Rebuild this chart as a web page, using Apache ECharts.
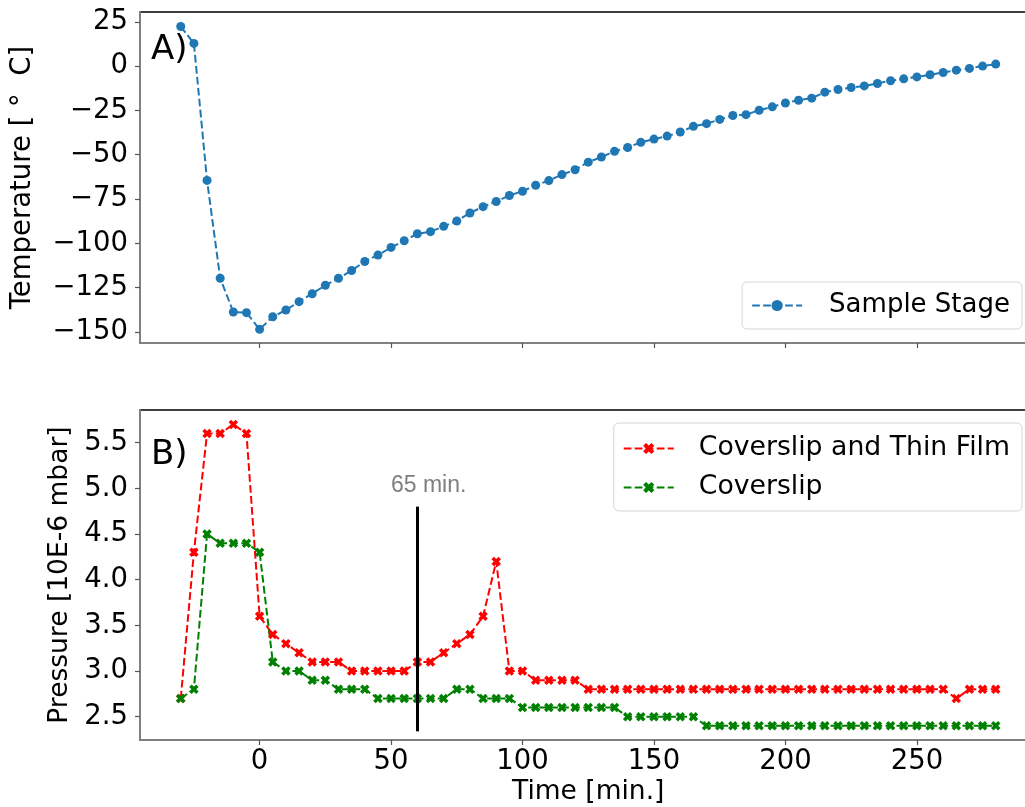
<!DOCTYPE html>
<html>
<head>
<meta charset="utf-8">
<script src="https://cdn.jsdelivr.net/npm/echarts@6/dist/echarts.min.js"></script>
<style>
html,body{margin:0;padding:0;background:#fff;}
#chart{width:1025px;height:807px;}
</style>
</head>
<body>
<div id="chart"></div>
<script>
// ---- data ----
var timeMin = [-30,-25,-20,-15,-10,-5,0,5,10,15,20,25,30,35,40,45,50,55,60,65,70,75,80,85,90,95,100,105,110,115,120,125,130,135,140,145,150,155,160,165,170,175,180,185,190,195,200,205,210,215,220,225,230,235,240,245,250,255,260,265,270,275,280];
var sampleStage = [22.3,12.8,-64.5,-119.7,-138.7,-139.1,-148.5,-141.4,-137.6,-132.9,-128.4,-123.6,-119.7,-115.3,-110.2,-106.6,-102.3,-98.5,-94.6,-93.4,-90.4,-87.4,-82.9,-79.3,-76.4,-73.0,-70.6,-67.2,-64.6,-61.2,-58.5,-54.2,-51.3,-48.1,-45.9,-43.0,-41.2,-39.5,-37.2,-34.0,-32.5,-30.1,-27.9,-27.4,-24.9,-23.0,-20.8,-19.3,-18.1,-14.7,-13.2,-12.1,-11.2,-9.8,-8.3,-7.2,-6.1,-4.9,-3.6,-2.3,-1.3,0.0,1.1];
var coverslipThinFilm = [2.7,4.3,5.6,5.6,5.7,5.6,3.6,3.4,3.3,3.2,3.1,3.1,3.1,3.0,3.0,3.0,3.0,3.0,3.1,3.1,3.2,3.3,3.4,3.6,4.2,3.0,3.0,2.9,2.9,2.9,2.9,2.8,2.8,2.8,2.8,2.8,2.8,2.8,2.8,2.8,2.8,2.8,2.8,2.8,2.8,2.8,2.8,2.8,2.8,2.8,2.8,2.8,2.8,2.8,2.8,2.8,2.8,2.8,2.8,2.7,2.8,2.8,2.8];
var coverslip = [2.7,2.8,4.5,4.4,4.4,4.4,4.3,3.1,3.0,3.0,2.9,2.9,2.8,2.8,2.8,2.7,2.7,2.7,2.7,2.7,2.7,2.8,2.8,2.7,2.7,2.7,2.6,2.6,2.6,2.6,2.6,2.6,2.6,2.6,2.5,2.5,2.5,2.5,2.5,2.5,2.4,2.4,2.4,2.4,2.4,2.4,2.4,2.4,2.4,2.4,2.4,2.4,2.4,2.4,2.4,2.4,2.4,2.4,2.4,2.4,2.4,2.4,2.4];
var xTicks = [0,50,100,150,200,250];
var tempTicks = [-150,-125,-100,-75,-50,-25,0,25];
var pressTicks = [2.5,3.0,3.5,4.0,4.5,5.0,5.5];
var markTime = 60;
var markFrom = 2.34, markTo = 4.8;
var markText = '65 min.';
var markTextPos = [64.3, 5.03];

function pairs(ys){ return timeMin.map(function(t,i){ return [t, ys[i]]; }); }
function fmtMinus(v){ return v < 0 ? '\u2212' + Math.abs(v) : String(v); }

var FONT = 'DejaVu Sans';
var GRAY = '#808080';
var TICK_FS = 27.5, NAME_FS = 26.5;
var xSym = 'path://M0,2.6L2.6,0L5,2.4L7.4,0L10,2.6L7.6,5L10,7.4L7.4,10L5,7.6L2.6,10L0,7.4L2.4,5Z';

function xAxisCfg(idx, showLabels, name){
  return {
    type:'value', gridIndex: idx, min:-45.5, max:295.5,
    name: name || '', nameLocation:'middle', nameGap:39,
    nameTextStyle:{fontFamily:FONT,fontSize:NAME_FS,color:'#000'},
    axisLine:{show:true,onZero:false,lineStyle:{color:GRAY,width:2}},
    axisTick:{show:true,length:5,customValues:xTicks,lineStyle:{color:'#555',width:1.2}},
    axisLabel:{show:showLabels,customValues:xTicks,fontFamily:FONT,fontSize:TICK_FS,color:'#000',margin:8},
    splitLine:{show:false}
  };
}

var chart = echarts.init(document.getElementById('chart'), null, {renderer:'canvas'});
var option = {
  animation:false,
  backgroundColor:'#fff',
  title:[
    {text:'A)', left:151, top:33, padding:0, textStyle:{fontFamily:FONT,fontSize:34,fontWeight:'normal',color:'#000'}},
    {text:'B)', left:151, top:438, padding:0, textStyle:{fontFamily:FONT,fontSize:34,fontWeight:'normal',color:'#000'}}
  ],
  grid:[
    {left:140, width:896.5, top:12, height:331, show:true, borderColor:'#000', borderWidth:1.5, backgroundColor:'transparent', outerBoundsMode:'none', containLabel:false},
    {left:140, width:896.5, top:410, height:330, show:true, borderColor:'#000', borderWidth:1.5, backgroundColor:'transparent', outerBoundsMode:'none', containLabel:false}
  ],
  xAxis:[ xAxisCfg(0,false,''), xAxisCfg(1,true,'Time [min.]') ],
  yAxis:[
    {type:'value', gridIndex:0, min:-156.2, max:30.5,
     name:'Temperature [ \u00B0  C]', nameLocation:'middle', nameGap:103,
     nameTextStyle:{fontFamily:FONT,fontSize:27.5,color:'#000'},
     axisLine:{show:true,onZero:false,lineStyle:{color:GRAY,width:2}},
     axisTick:{show:true,length:5,customValues:tempTicks,lineStyle:{color:'#555',width:1.2}},
     axisLabel:{customValues:tempTicks,formatter:fmtMinus,fontFamily:FONT,fontSize:TICK_FS,color:'#000',margin:12},
     splitLine:{show:false}},
    {type:'value', gridIndex:1, min:2.245, max:5.858,
     name:'Pressure [10E-6 mbar]', nameLocation:'middle', nameGap:58,
     nameTextStyle:{fontFamily:FONT,fontSize:NAME_FS,color:'#000'},
     axisLine:{show:true,onZero:false,lineStyle:{color:GRAY,width:2}},
     axisTick:{show:true,length:5,customValues:pressTicks,lineStyle:{color:'#555',width:1.2}},
     axisLabel:{customValues:pressTicks,formatter:function(v){return v.toFixed(1);},fontFamily:FONT,fontSize:TICK_FS,color:'#000',margin:12},
     splitLine:{show:false}}
  ],
  legend:[
    {data:['Sample Stage'], right:3, top:282, orient:'vertical',
     itemWidth:50, itemHeight:14, itemGap:10,
     padding:[9,12,9,9], borderColor:'#d6d6d6', borderWidth:1, borderRadius:5, backgroundColor:'rgba(255,255,255,0.8)',
     textStyle:{fontFamily:FONT,fontSize:26,color:'#000',lineHeight:29,padding:[0,0,0,22]}},
    {data:['Coverslip and Thin Film','Coverslip'], right:3, top:423, orient:'vertical', align:'left',
     itemWidth:50, itemHeight:14, itemGap:10,
     padding:[11,12,9,9], borderColor:'#d6d6d6', borderWidth:1, borderRadius:5, backgroundColor:'rgba(255,255,255,0.8)',
     textStyle:{fontFamily:FONT,fontSize:26.7,color:'#000',lineHeight:29,padding:[0,0,0,20]}}
  ],
  series:[
    {name:'Sample Stage', type:'line', xAxisIndex:0, yAxisIndex:0, data:pairs(sampleStage),
     symbol:'circle', symbolSize:9, showAllSymbol:true,
     itemStyle:{color:'#1f77b4'}, lineStyle:{color:'#1f77b4',width:2,type:[7.7,3.3]}},
    {name:'Coverslip and Thin Film', type:'line', xAxisIndex:1, yAxisIndex:1, data:pairs(coverslipThinFilm),
     symbol:xSym, symbolSize:9.5, showAllSymbol:true,
     itemStyle:{color:'#ff0000'}, lineStyle:{color:'#ff0000',width:2,type:[7.7,3.3]}},
    {name:'Coverslip', type:'line', xAxisIndex:1, yAxisIndex:1, data:pairs(coverslip),
     symbol:xSym, symbolSize:9.5, showAllSymbol:true,
     itemStyle:{color:'#008000'}, lineStyle:{color:'#008000',width:2,type:[7.7,3.3]},
     markLine:{silent:true, symbol:['none','none'], label:{show:false},
       lineStyle:{color:'#000',width:3,type:'solid'},
       data:[[{coord:[markTime,markFrom]},{coord:[markTime,markTo]}]]},
     markPoint:{silent:true, symbol:'circle', symbolSize:0,
       label:{show:true, formatter:markText, position:'inside', fontFamily:'Liberation Sans', fontSize:23, color:'#7f7f7f'},
       data:[{coord:markTextPos}]}
    }
  ]
};
chart.setOption(option);
</script>
</body>
</html>
